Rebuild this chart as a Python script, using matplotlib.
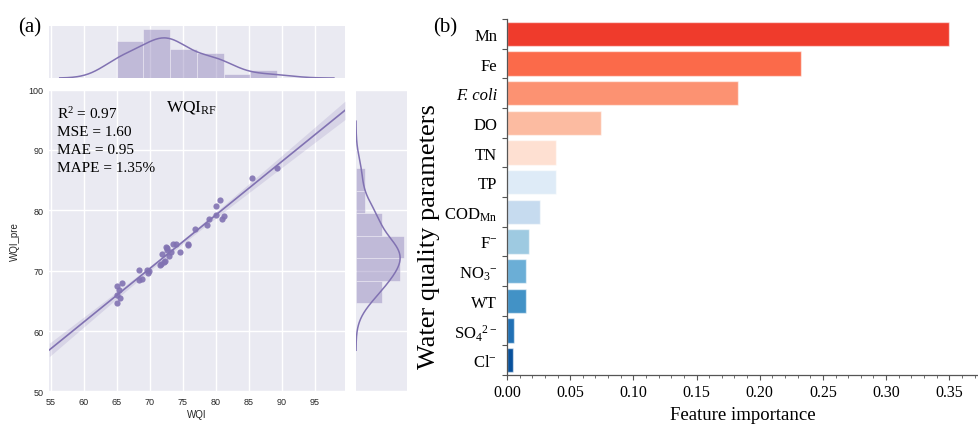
import numpy as np
import matplotlib
matplotlib.use("Agg")
import matplotlib.pyplot as plt
from matplotlib.ticker import MultipleLocator, FixedLocator, FormatStrFormatter

plt.rcParams['mathtext.fontset'] = 'custom'
plt.rcParams['mathtext.rm'] = 'Liberation Serif'
plt.rcParams['mathtext.it'] = 'Liberation Serif:italic'
plt.rcParams['mathtext.bf'] = 'Liberation Serif:bold'

# ---- (a) observed vs predicted WQI ----
wqi = [65.1, 65.8, 65.0, 65.5, 65.1, 65.4, 68.4, 68.4, 68.8, 69.6, 69.7, 69.9,
       71.6, 71.7, 71.9, 72.25, 72.3, 72.5, 72.6, 72.7, 72.95, 73.3, 73.55, 74.06,
       74.56, 75.8, 75.85, 76.84, 78.65, 79.0, 80.0, 80.0, 80.65, 80.97, 81.3,
       85.5, 89.3]
wqi_pre = [67.4, 68.0, 66.0, 65.5, 64.6, 66.8, 70.05, 68.4, 68.6, 70.16, 69.6, 69.9,
           70.9, 71.1, 72.75, 71.45, 71.6, 73.9, 73.7, 73.5, 72.5, 73.1, 74.5, 74.5,
           73.17, 74.2, 74.35, 76.98, 77.5, 78.54, 79.3, 80.73, 81.7, 78.54, 79.05,
           85.35, 87.0]
metrics = ["R$^2$ = 0.97", "MSE = 1.60", "MAE = 0.95", "MAPE = 1.35%"]

# ---- (b) feature importance ----
params = ['Mn', 'Fe', 'F. coli', 'DO', 'TN', 'TP', r'COD$_{\mathrm{Mn}}$',
          r'F$^{-}$', r'NO$_3$$^{-}$', 'WT', r'SO$_4$$^{2-}$', r'Cl$^{-}$']
importance = [0.350, 0.233, 0.183, 0.0747, 0.0388, 0.0390, 0.0262,
              0.0172, 0.0154, 0.0150, 0.0058, 0.0048]
bar_colors = ['#ef3b2c', '#fb6a4a', '#fc9272', '#fcbba1', '#fee0d2', '#deebf7',
              '#c6dbef', '#9ecae1', '#6baed6', '#4292c6', '#2171b5', '#08519c']

purple = '#8172B2'
bg = '#EAEAF2'
tick_col = '#262626'

W, H = 979, 427
fig = plt.figure(figsize=(W / 100, H / 100), dpi=100)


def rect(x0, y0, x1, y1):
    return [x0 / W, 1 - y1 / H, (x1 - x0) / W, (y1 - y0) / H]


ax_j = fig.add_axes(rect(49.3, 90.6, 345, 392.5))
ax_mx = fig.add_axes(rect(49.3, 27.3, 345, 79))
ax_my = fig.add_axes(rect(356, 90.6, 406.7, 392.5))

for a in (ax_j, ax_mx, ax_my):
    a.set_facecolor(bg)
    for s in a.spines.values():
        s.set_visible(False)
    a.set_axisbelow(True)
    a.grid(True, color='white', lw=1.0)
    a.tick_params(length=0, colors=tick_col)

x = np.asarray(wqi)
y = np.asarray(wqi_pre)
xlim = (54.8, 99.6)
ylim = (50, 100)

# regression line with 95% confidence band
n = len(x)
b1, b0 = np.polyfit(x, y, 1)
xs = np.linspace(xlim[0], xlim[1], 200)
ys = b0 + b1 * xs
resid = y - (b0 + b1 * x)
s_err = np.sqrt(np.sum(resid ** 2) / (n - 2))
se = s_err * np.sqrt(1 / n + (xs - x.mean()) ** 2 / np.sum((x - x.mean()) ** 2))
tval = 2.03
ax_j.fill_between(xs, ys - tval * se, ys + tval * se, color=purple, alpha=0.18, lw=0)
ax_j.plot(xs, ys, color=purple, lw=1.2)
ax_j.scatter(x, y, s=20, color=purple, alpha=0.9, lw=0, zorder=3)

ax_j.set_xlim(*xlim)
ax_j.set_ylim(*ylim)
ax_j.xaxis.set_major_locator(FixedLocator(np.arange(55, 100, 5)))
ax_j.yaxis.set_major_locator(FixedLocator(np.arange(50, 101, 10)))
ax_j.tick_params(labelsize=6.5, pad=4)
for lab in ax_j.get_xticklabels() + ax_j.get_yticklabels():
    lab.set_family('Liberation Sans')
ax_j.set_xlabel('WQI', fontsize=7, family='Liberation Sans', color=tick_col, labelpad=2)
ax_j.set_ylabel('WQI_pre', fontsize=7, family='Liberation Sans', color=tick_col, labelpad=6)

for i, t in enumerate(metrics):
    ax_j.text(56.0, 96.1 - i * 3.0, t, fontsize=11, family='Liberation Serif',
              va='center', ha='left', color='black')
ax_j.text(76.3, 97.2, r'WQI$_{\mathrm{RF}}$', fontsize=12.5, family='Liberation Serif',
          va='center', ha='center', color='black')


def kde(v, grid):
    v = np.asarray(v)
    bw = v.std(ddof=1) * len(v) ** (-1 / 5)
    z = (grid[:, None] - v[None, :]) / bw
    return np.exp(-0.5 * z ** 2).sum(axis=1) / (len(v) * bw * np.sqrt(2 * np.pi))


# marginal distributions
bwx = x.std(ddof=1) * n ** (-1 / 5)
gx = np.linspace(x.min() - 3 * bwx, x.max() + 3 * bwx, 300)
ax_mx.hist(x, bins=6, density=True, color=purple, alpha=0.4, edgecolor='white', lw=0.6)
ax_mx.plot(gx, kde(x, gx), color=purple, lw=1.1)
ax_mx.set_xlim(*xlim)
ax_mx.xaxis.set_major_locator(FixedLocator(np.arange(55, 100, 5)))
ax_mx.set_yticks([])
ax_mx.tick_params(labelbottom=False)

bwy = y.std(ddof=1) * n ** (-1 / 5)
gy = np.linspace(y.min() - 3 * bwy, y.max() + 3 * bwy, 300)
ax_my.hist(y, bins=6, density=True, orientation='horizontal', color=purple,
           alpha=0.4, edgecolor='white', lw=0.6)
ax_my.plot(kde(y, gy), gy, color=purple, lw=1.1)
ax_my.set_ylim(*ylim)
ax_my.yaxis.set_major_locator(FixedLocator(np.arange(50, 101, 10)))
ax_my.set_xticks([])
ax_my.tick_params(labelleft=False)

fig.text(30 / W, 1 - 28 / H, '(a)', fontsize=15, family='Liberation Serif',
         ha='center', va='center')

# ---- panel (b) ----
ax_b = fig.add_axes(rect(507, 20, 979, 376))
pos = np.arange(len(params))
ax_b.barh(pos, importance, height=0.82, color=bar_colors,
          edgecolor=(1, 1, 1, 0.55), lw=1.0)
ax_b.set_ylim(len(params) - 0.5, -0.5)
ax_b.set_xlim(0, 0.3735)
for s in ('top', 'right'):
    ax_b.spines[s].set_visible(False)
for s in ('left', 'bottom'):
    ax_b.spines[s].set_color('#555555')
    ax_b.spines[s].set_linewidth(0.9)
ax_b.set_yticks(pos)
ax_b.set_yticklabels(params)
ax_b.yaxis.set_minor_locator(FixedLocator(np.arange(-0.5, len(params), 1.0)))
ax_b.tick_params(axis='y', which='major', length=0, pad=7, labelsize=12)
ax_b.tick_params(axis='y', which='minor', length=3.5, width=0.8, color='#555555')
ax_b.xaxis.set_major_locator(MultipleLocator(0.05))
ax_b.xaxis.set_minor_locator(MultipleLocator(0.01))
ax_b.tick_params(axis='x', which='major', length=3.5, width=0.8, color='#555555',
                 labelsize=11.5, pad=3)
ax_b.tick_params(axis='x', which='minor', length=2, width=0.6, color='#555555')
ax_b.xaxis.set_major_formatter(FormatStrFormatter('%.2f'))
for lab in ax_b.get_xticklabels() + ax_b.get_yticklabels():
    lab.set_family('Liberation Serif')
ax_b.get_yticklabels()[2].set_style('italic')
ax_b.set_xlabel('Feature importance', fontsize=13.5, family='Liberation Serif', labelpad=4)
ax_b.set_ylabel('Water quality parameters', fontsize=19, family='Liberation Serif')
ax_b.yaxis.set_label_coords(-0.141, 0.393)

fig.text(445 / W, 1 - 28 / H, '(b)', fontsize=15, family='Liberation Serif',
         ha='center', va='center')

fig.savefig('out.png', dpi=100)
